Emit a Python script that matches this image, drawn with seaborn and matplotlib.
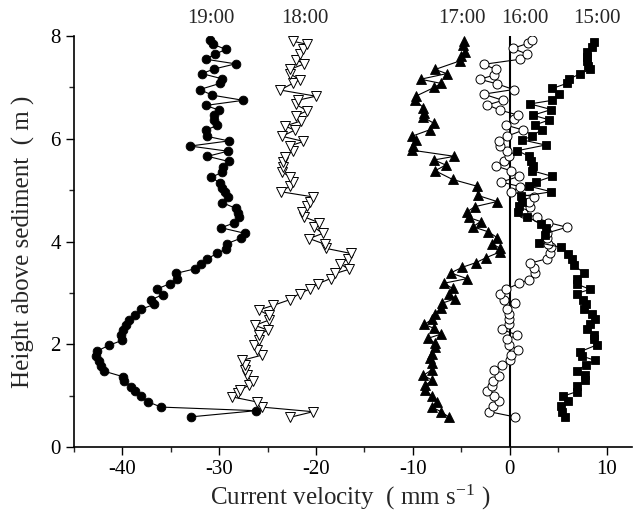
"""
Velocity profiles above the sediment at five times (15:00 - 19:00)
"""
import matplotlib
matplotlib.use("Agg")
import matplotlib.pyplot as plt
from matplotlib.ticker import MultipleLocator
import seaborn as sns

# ---- data (height in m, velocity in mm/s) ----
h19 = [0.59, 0.71, 0.78, 0.88, 0.99, 1.09, 1.17, 1.29, 1.37, 1.48, 1.58, 1.68, 1.77, 1.87,
       1.98, 2.08, 2.18, 2.28, 2.37, 2.47, 2.57, 2.68, 2.78, 2.87, 2.97, 3.08, 3.18, 3.28,
       3.38, 3.47, 3.57, 3.67, 3.77, 3.86, 3.96, 4.07, 4.16, 4.27, 4.36, 4.47, 4.55, 4.65,
       4.76, 4.87, 4.96, 5.05, 5.14, 5.25, 5.35, 5.45, 5.56, 5.66, 5.76, 5.86, 5.96, 6.05,
       6.17, 6.26, 6.36, 6.46, 6.56, 6.65, 6.75, 6.85, 6.96, 7.08, 7.17, 7.27, 7.36, 7.46,
       7.55, 7.65, 7.74, 7.84, 7.92]
v19 = [-32.9, -26.2, -36.0, -37.3, -38.1, -38.7, -39.1, -39.8, -39.9, -41.9, -42.2, -42.4, -42.7, -42.6,
       -41.4, -40.0, -40.1, -39.9, -39.6, -39.3, -38.7, -38.1, -36.7, -37.0, -35.8, -36.4, -35.1, -34.3,
       -34.5, -32.5, -31.9, -31.2, -30.2, -29.3, -29.2, -27.7, -27.3, -29.8, -28.5, -27.9, -28.0, -28.3,
       -29.7, -29.1, -29.4, -29.7, -29.9, -30.8, -29.7, -29.6, -29.0, -31.2, -29.1, -33.0, -29.0, -31.3,
       -31.4, -30.2, -30.5, -30.5, -30.0, -31.4, -27.5, -30.7, -32.0, -29.9, -29.7, -31.8, -30.5, -28.3,
       -31.4, -30.4, -29.3, -30.6, -30.9]

h18 = [0.58, 0.69, 0.78, 0.88, 0.98, 1.06, 1.11, 1.21, 1.29, 1.40, 1.50, 1.60, 1.69, 1.79,
       1.89, 1.98, 2.08, 2.18, 2.28, 2.37, 2.47, 2.57, 2.67, 2.76, 2.87, 2.99, 3.08, 3.18,
       3.28, 3.38, 3.46, 3.57, 3.67, 3.77, 3.87, 3.95, 4.06, 4.16, 4.28, 4.37, 4.48, 4.58,
       4.69, 4.77, 4.87, 4.97, 5.08, 5.16, 5.26, 5.36, 5.46, 5.55, 5.65, 5.77, 5.86, 5.95,
       6.05, 6.17, 6.25, 6.35, 6.44, 6.55, 6.67, 6.75, 6.83, 6.95, 7.08, 7.15, 7.27, 7.35,
       7.46, 7.54, 7.66, 7.74, 7.84, 7.90]
v18 = [-22.7, -20.3, -25.6, -26.1, -28.7, -28.0, -27.8, -26.9, -26.5, -27.1, -27.3, -27.3, -27.6, -25.6,
       -26.1, -26.4, -25.9, -25.9, -25.0, -26.3, -24.9, -24.9, -25.9, -24.4, -22.7, -21.7, -20.6, -19.8,
       -18.5, -18.0, -16.6, -17.5, -16.7, -16.4, -19.0, -19.1, -20.7, -19.3, -20.2, -19.7, -21.2, -21.4,
       -20.9, -20.6, -20.3, -23.6, -22.7, -22.4, -22.7, -23.5, -23.4, -23.4, -23.2, -22.4, -22.7, -21.3,
       -23.5, -22.2, -23.2, -21.5, -22.1, -20.9, -22.1, -21.9, -20.0, -23.7, -22.4, -21.7, -22.7, -22.7,
       -21.2, -22.1, -21.6, -21.3, -20.9, -22.4]

h17 = [0.59, 0.69, 0.78, 0.88, 0.99, 1.11, 1.21, 1.30, 1.40, 1.51, 1.63, 1.73, 1.81, 1.94,
       2.02, 2.12, 2.20, 2.31, 2.39, 2.49, 2.60, 2.70, 2.80, 2.89, 2.99, 3.09, 3.19, 3.28,
       3.39, 3.50, 3.59, 3.69, 3.80, 3.87, 3.96, 4.08, 4.19, 4.29, 4.39, 4.47, 4.58, 4.68,
       4.78, 4.90, 5.08, 5.21, 5.38, 5.49, 5.59, 5.66, 5.78, 5.86, 5.98, 6.05, 6.18, 6.30,
       6.42, 6.51, 6.61, 6.75, 6.83, 7.00, 7.08, 7.16, 7.27, 7.35, 7.52, 7.61, 7.70, 7.82, 7.91]
v17 = [-6.3, -7.1, -8.0, -7.5, -8.0, -8.7, -8.7, -8.0, -8.9, -8.0, -8.0, -8.2, -8.0, -7.7,
       -7.7, -8.4, -7.1, -7.8, -8.8, -8.0, -7.7, -7.1, -7.0, -5.6, -6.3, -5.9, -6.8, -4.4,
       -6.1, -4.9, -3.5, -2.4, -1.0, -1.0, -1.8, -1.3, -2.2, -3.8, -3.0, -4.2, -4.4, -3.6,
       -1.3, -3.3, -3.4, -5.9, -7.7, -6.6, -7.8, -5.7, -10.1, -10.0, -9.7, -10.1, -8.2, -7.8,
       -8.9, -8.8, -8.9, -9.8, -9.7, -7.8, -7.1, -9.2, -6.5, -7.7, -5.1, -5.0, -4.6, -4.8, -4.7]

h16 = [0.59, 0.69, 0.80, 0.90, 0.99, 1.10, 1.19, 1.29, 1.38, 1.50, 1.60, 1.69, 1.79, 1.89,
       1.99, 2.10, 2.18, 2.29, 2.40, 2.49, 2.59, 2.68, 2.80, 2.87, 2.99, 3.07, 3.19, 3.26,
       3.38, 3.48, 3.58, 3.67, 3.77, 3.89, 3.96, 4.07, 4.17, 4.28, 4.37, 4.47, 4.56, 4.67,
       4.77, 4.87, 4.97, 5.07, 5.16, 5.27, 5.38, 5.47, 5.57, 5.66, 5.77, 5.86, 5.96, 6.05,
       6.17, 6.27, 6.38, 6.46, 6.56, 6.66, 6.75, 6.87, 6.96, 7.07, 7.16, 7.24, 7.35, 7.45,
       7.55, 7.65, 7.76, 7.86, 7.92]
v16 = [0.5, -2.1, -1.7, -1.1, -1.6, -2.3, -1.8, -1.7, -1.1, -1.6, -0.8, 0.0, 0.1, 0.9,
       -0.1, -0.3, 0.8, -0.8, -0.1, -0.1, -0.1, -0.3, 0.5, -0.6, -1.0, -0.4, 1.0, 2.0,
       2.6, 2.5, 2.1, 3.9, 4.2, 4.3, 4.0, 3.9, 3.9, 5.9, 4.0, 2.8, 1.4, 2.1,
       2.0, 2.5, 0.1, 1.1, -0.9, 1.0, 0.1, -1.4, -0.6, -0.1, -0.3, -1.0, -1.1, -0.3,
       1.4, -0.4, 0.4, 0.9, -1.0, -2.3, -0.7, -2.7, 0.4, -1.3, -3.1, -1.6, -1.4, -2.7,
       1.1, 1.8, 0.3, 1.9, 2.3]

h15 = [0.59, 0.69, 0.80, 0.90, 0.99, 1.08, 1.19, 1.30, 1.40, 1.49, 1.60, 1.69, 1.77, 1.86,
       1.99, 2.10, 2.18, 2.29, 2.39, 2.49, 2.59, 2.68, 2.78, 2.87, 2.99, 3.07, 3.17, 3.28,
       3.39, 3.54, 3.67, 3.76, 3.89, 3.98, 4.13, 4.26, 4.35, 4.48, 4.58, 4.69, 4.78, 4.88,
       4.97, 5.08, 5.16, 5.27, 5.38, 5.47, 5.57, 5.66, 5.77, 5.88, 5.98, 6.05, 6.18, 6.27,
       6.37, 6.46, 6.57, 6.68, 6.75, 6.88, 6.98, 7.08, 7.16, 7.27, 7.35, 7.42, 7.51, 7.60,
       7.70, 7.79, 7.89]
v15 = [5.7, 5.4, 5.3, 6.0, 5.5, 6.9, 7.0, 7.8, 7.8, 6.9, 7.9, 8.8, 7.5, 7.3,
       9.0, 8.7, 8.7, 8.0, 8.3, 8.8, 8.5, 7.7, 7.9, 7.6, 6.9, 8.3, 7.0, 6.9,
       7.7, 6.6, 6.4, 6.0, 5.3, 3.0, 3.6, 3.7, 3.2, 1.8, 0.9, 1.0, 1.3, 1.2,
       4.3, 2.0, 2.7, 4.4, 2.3, 2.4, 2.2, 2.0, 0.8, 3.7, 1.3, 2.3, 3.3, 2.6,
       4.1, 2.4, 4.3, 2.1, 4.4, 5.1, 4.4, 5.9, 6.1, 7.3, 8.3, 8.1, 8.0, 8.0,
       8.0, 8.5, 8.7]

times = ["19:00", "18:00", "17:00", "16:00", "15:00"]
label_x = [-30.9, -21.1, -4.9, 1.6, 9.0]

sns.set_style("ticks")
plt.rcParams["font.family"] = ["Liberation Serif", "DejaVu Serif"]
plt.rcParams["mathtext.fontset"] = "stix"
plt.rcParams["axes.unicode_minus"] = False

fig = plt.figure(figsize=(6.42, 5.23), dpi=100)
ax = fig.add_axes([0.115, 0.145, 0.869, 0.786])

lw = 0.8
# 19:00 filled circles
sns.lineplot(x=v19, y=h19, sort=False, estimator=None, orient="y", ax=ax,
             color="black", lw=lw, marker="o", ms=6.3, mfc="black", mec="black", mew=0.6)
# 18:00 open down triangles
sns.lineplot(x=v18, y=h18, sort=False, estimator=None, orient="y", ax=ax,
             color="black", lw=lw, marker="v", ms=6.8, mfc="white", mec="black", mew=0.7)
# 17:00 filled up triangles
sns.lineplot(x=v17, y=h17, sort=False, estimator=None, orient="y", ax=ax,
             color="black", lw=lw, marker="^", ms=7.0, mfc="black", mec="black", mew=0.6)
# 16:00 open circles
sns.lineplot(x=v16, y=h16, sort=False, estimator=None, orient="y", ax=ax,
             color="black", lw=lw, marker="o", ms=6.5, mfc="white", mec="black", mew=0.7)
# 15:00 filled squares
sns.lineplot(x=v15, y=h15, sort=False, estimator=None, orient="y", ax=ax,
             color="black", lw=lw, marker="s", ms=5.6, mfc="black", mec="black", mew=0.6)

# zero velocity line
ax.axvline(0, color="black", lw=1.5, zorder=1)

for t, x in zip(times, label_x):
    ax.text(x, 8.35, t, ha="center", va="center", fontsize=15, clip_on=False)

ax.set_xlim(-45, 12.6)
ax.set_ylim(0, 8)
ax.xaxis.set_major_locator(MultipleLocator(10))
ax.xaxis.set_minor_locator(MultipleLocator(5))
ax.yaxis.set_major_locator(MultipleLocator(2))
ax.yaxis.set_minor_locator(MultipleLocator(1))
ax.tick_params(which="major", direction="out", length=6, width=1, labelsize=15, colors="black")
ax.tick_params(which="minor", direction="out", length=3.5, width=1)
ax.set_xlabel("Current velocity  ( mm s$^{\\mathregular{-1}}$ )", fontsize=18)
ax.set_ylabel("Height above sediment  ( m )", fontsize=18)
ax.xaxis.set_label_coords(0.495, -0.085)
ax.yaxis.set_label_coords(-0.07, 0.5)
for side in ["left", "bottom"]:
    ax.spines[side].set_linewidth(1.2)
    ax.spines[side].set_color("black")
sns.despine(ax=ax)

fig.savefig("out.png", dpi=100)
